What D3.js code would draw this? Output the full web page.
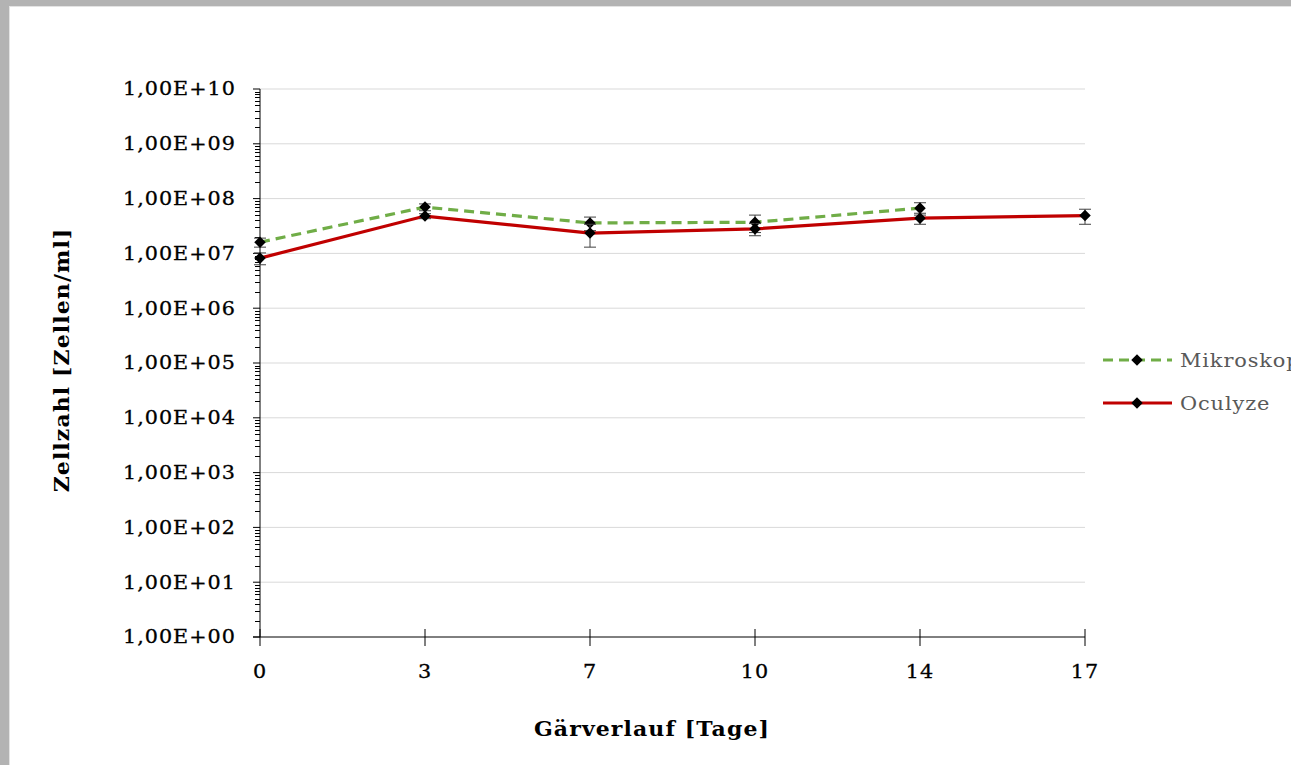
<!DOCTYPE html>
<html>
<head>
<meta charset="utf-8">
<script src="https://cdn.jsdelivr.net/npm/d3@7"></script>
<style>
  body { margin: 0; background: #fff; }
  svg { display: block; font-family: "DejaVu Serif", serif; }
</style>
</head>
<body>
<svg id="chart" width="1291" height="765"></svg>
<script>
// data
const days = ["0", "3", "7", "10", "14", "17"];
const mikroskop = [1.6e7, 7.0e7, 3.6e7, 3.7e7, 6.7e7, null];
const mikroskopErr = [0.3e7, 1.0e7, 1.0e7, 1.3e7, 1.7e7, null];
const oculyze = [8.2e6, 4.8e7, 2.35e7, 2.8e7, 4.4e7, 4.9e7];
const oculyzeErr = [0.2e7, 0.5e7, 1.05e7, 0.7e7, 1.0e7, 1.5e7];
const decades = d3.range(0, 11);

const series = [
  { name: "Mikroskop", values: mikroskop, errors: mikroskopErr, color: "#70ad47", dash: "10,6" },
  { name: "Oculyze", values: oculyze, errors: oculyzeErr, color: "#c00000", dash: null }
];

const svg = d3.select("#chart");

// grey frame on top and left
svg.append("rect").attr("x", 0).attr("y", 0).attr("width", 1291).attr("height", 6).attr("fill", "#b3b3b3");
svg.append("rect").attr("x", 0).attr("y", 0).attr("width", 9).attr("height", 765).attr("fill", "#b3b3b3");
svg.append("rect").attr("x", 9).attr("y", 6).attr("width", 1282).attr("height", 1).attr("fill", "#e3e3e3");
svg.append("rect").attr("x", 9).attr("y", 6).attr("width", 1).attr("height", 759).attr("fill", "#e3e3e3");

const x = d3.scalePoint().domain(days).range([260, 1085]).padding(0);
const y = d3.scaleLog().domain([1, 1e10]).range([637, 89]);

// gridlines
svg.append("g")
  .selectAll("line")
  .data(decades.slice(1))
  .join("line")
  .attr("x1", 260).attr("x2", 1085)
  .attr("y1", d => y(Math.pow(10, d))).attr("y2", d => y(Math.pow(10, d)))
  .attr("stroke", "#d9d9d9").attr("stroke-width", 1);

// y axis with minor ticks
const minor = [];
decades.slice(0, -1).forEach(k => d3.range(2, 10).forEach(m => minor.push(m * Math.pow(10, k))));
const yAxis = svg.append("g");
yAxis.append("line").attr("x1", 260).attr("x2", 260).attr("y1", y(1e10)).attr("y2", y(1))
  .attr("stroke", "#000").attr("stroke-width", 1);
yAxis.selectAll(".minor").data(minor).join("line").attr("class", "minor")
  .attr("x1", 255).attr("x2", 260)
  .attr("y1", d => Math.round(y(d)) + 0.5).attr("y2", d => Math.round(y(d)) + 0.5)
  .attr("stroke", "#000").attr("stroke-width", 1);
yAxis.selectAll(".major").data(decades).join("line").attr("class", "major")
  .attr("x1", 253).attr("x2", 260)
  .attr("y1", d => y(Math.pow(10, d))).attr("y2", d => y(Math.pow(10, d)))
  .attr("stroke", "#000").attr("stroke-width", 1);
yAxis.selectAll("text").data(decades).join("text")
  .attr("transform", d => `translate(236,${y(Math.pow(10, d))}) scale(1.15,1)`)
  .attr("dy", "0.36em").attr("text-anchor", "end")
  .attr("font-size", 18).attr("letter-spacing", 0.9).attr("fill", "#000")
  .attr("stroke", "#000").attr("stroke-width", 0.3)
  .text(d => "1,00E+" + String(d).padStart(2, "0"));

// x axis
const xAxis = svg.append("g");
xAxis.append("line").attr("x1", 253).attr("x2", 1085).attr("y1", 637).attr("y2", 637)
  .attr("stroke", "#000").attr("stroke-width", 1);
xAxis.selectAll("line.tick").data(days).join("line").attr("class", "tick")
  .attr("x1", d => x(d)).attr("x2", d => x(d)).attr("y1", 629).attr("y2", 646)
  .attr("stroke", "#000").attr("stroke-width", 1);
xAxis.selectAll("text").data(days).join("text")
  .attr("transform", d => `translate(${x(d)},672) scale(1.15,1)`)
  .attr("dy", "0.36em").attr("text-anchor", "middle")
  .attr("font-size", 18).attr("letter-spacing", 0.9).attr("fill", "#000")
  .attr("stroke", "#000").attr("stroke-width", 0.3)
  .text(d => d);

// axis titles
svg.append("text").attr("transform", "translate(652,729) scale(1.1,1)").attr("dy", "0.35em").attr("text-anchor", "middle")
  .attr("font-size", 20).attr("font-weight", "bold").attr("letter-spacing", 1)
  .text("Gärverlauf [Tage]");
svg.append("text").attr("transform", "translate(62,360) rotate(-90) scale(1.1,1)").attr("dy", "0.35em")
  .attr("text-anchor", "middle").attr("font-size", 20).attr("font-weight", "bold").attr("letter-spacing", 1)
  .text("Zellzahl [Zellen/ml]");

const diamond = d3.symbol().type(d3.symbolDiamond2).size(85);

series.forEach(s => {
  const pts = days.map((d, i) => ({ day: d, v: s.values[i], e: s.errors[i] })).filter(p => p.v != null);
  const g = svg.append("g");
  g.append("path").datum(pts)
    .attr("d", d3.line().x(p => x(p.day)).y(p => y(p.v)))
    .attr("fill", "none").attr("stroke", s.color).attr("stroke-width", 3.2)
    .attr("stroke-dasharray", s.dash);
  const eb = g.selectAll(".err").data(pts).join("g").attr("class", "err")
    .attr("stroke", "#404040").attr("stroke-width", 1);
  eb.append("line").attr("x1", p => x(p.day)).attr("x2", p => x(p.day))
    .attr("y1", p => y(p.v + p.e)).attr("y2", p => y(p.v - p.e));
  eb.append("line").attr("x1", p => x(p.day) - 6).attr("x2", p => x(p.day) + 6)
    .attr("y1", p => y(p.v + p.e)).attr("y2", p => y(p.v + p.e));
  eb.append("line").attr("x1", p => x(p.day) - 6).attr("x2", p => x(p.day) + 6)
    .attr("y1", p => y(p.v - p.e)).attr("y2", p => y(p.v - p.e));
  g.selectAll(".mk").data(pts).join("path").attr("class", "mk")
    .attr("transform", p => `translate(${x(p.day)},${y(p.v)})`)
    .attr("d", diamond).attr("fill", "#000");
});

// legend
const legend = svg.append("g");
series.forEach((s, i) => {
  const ly = 360 + i * 43;
  legend.append("line").attr("x1", 1103).attr("x2", 1172).attr("y1", ly).attr("y2", ly)
    .attr("stroke", s.color).attr("stroke-width", 3.2).attr("stroke-dasharray", s.dash);
  legend.append("path").attr("transform", `translate(1137,${ly})`).attr("d", diamond).attr("fill", "#000");
  legend.append("text").attr("transform", `translate(1180,${ly}) scale(1.1,1)`).attr("dy", "0.36em")
    .attr("font-size", 19).attr("letter-spacing", 0.8).attr("fill", "#595959").text(s.name);
});
</script>
</body>
</html>
